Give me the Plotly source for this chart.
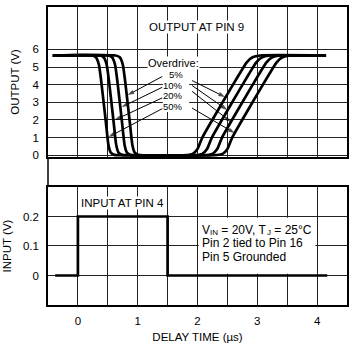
import plotly.graph_objects as go

# ---------------- data ----------------
overdrive_labels = ["5%", "10%", "20%", "50%"]

t_5 = [-0.42, 0.63, 0.70, 0.75, 0.79, 0.87, 0.91, 0.95, 1.01, 1.11,
       1.77, 1.92, 2.00, 2.08, 2.42, 2.70, 2.82, 2.92, 3.05, 4.15]
t_10 = [-0.42, 0.50, 0.57, 0.62, 0.66, 0.74, 0.78, 0.82, 0.88, 0.98,
        1.93, 2.08, 2.16, 2.24, 2.58, 2.86, 2.98, 3.08, 3.21, 4.15]
t_20 = [-0.42, 0.36, 0.43, 0.48, 0.52, 0.60, 0.64, 0.68, 0.74, 0.84,
        2.10, 2.25, 2.33, 2.41, 2.75, 3.03, 3.15, 3.25, 3.38, 4.15]
t_50 = [-0.42, 0.23, 0.30, 0.35, 0.39, 0.47, 0.51, 0.55, 0.61, 0.71,
        2.27, 2.42, 2.50, 2.58, 2.92, 3.20, 3.32, 3.42, 3.55, 4.15]
v_out = [5.65, 5.65, 5.55, 5.15, 4.2, 1.8, 0.6, 0.15, 0.02, 0.0,
         0.0, 0.08, 0.35, 1.0, 3.0, 4.6, 5.25, 5.55, 5.65, 5.65]

t_in = [-0.38, 0.0, 0.0, 1.5, 1.5, 4.17]
v_in = [0.0, 0.0, 0.2, 0.2, 0.0, 0.0]

x_ticks = [0, 1, 2, 3, 4]
out_ticks = [0, 1, 2, 3, 4, 5, 6]
in_ticks = [0, 0.1, 0.2]
in_tick_text = ["0", "0.1", "0.2"]

# ---------------- figure ----------------
FONT = "Liberation Sans, Arial, Helvetica, sans-serif"
fig = go.Figure()

for tt in (t_5, t_10, t_20, t_50):
    fig.add_trace(go.Scatter(x=tt, y=v_out, mode="lines", xaxis="x", yaxis="y",
                             line=dict(color="black", width=2.7, shape="spline", smoothing=0.5),
                             showlegend=False, hoverinfo="skip"))

fig.add_trace(go.Scatter(x=t_in, y=v_in, mode="lines", xaxis="x2", yaxis="y2",
                         line=dict(color="black", width=2.7),
                         showlegend=False, hoverinfo="skip"))

# leader arrows from the overdrive labels to the curves (tail, head)
left_arrows = [((1.41, 4.46), (0.83, 3.41)), ((1.41, 3.85), (0.73, 2.73)),
               ((1.41, 3.25), (0.61, 1.99)), ((1.41, 2.64), (0.51, 1.03))]
right_arrows = [((1.91, 4.23), (2.46, 3.30)), ((1.91, 3.95), (2.50, 2.56)),
                ((1.91, 3.62), (2.56, 1.88)), ((1.91, 2.67), (2.62, 1.26))]
for (tx, ty), (hx, hy) in left_arrows + right_arrows:
    fig.add_trace(go.Scatter(x=[tx, hx], y=[ty, hy], mode="lines+markers", xaxis="x", yaxis="y",
                             line=dict(color="black", width=1),
                             marker=dict(symbol=["circle", "arrow"], size=[0, 7], color="black",
                                         angleref="previous", line=dict(width=0)),
                             showlegend=False, hoverinfo="skip"))

grid = dict(showgrid=True, gridcolor="#222", gridwidth=1, zeroline=False,
            showline=True, mirror=True, linecolor="black", linewidth=1.5, ticks="")
xminor = dict(dtick=0.5, tick0=0, showgrid=True, gridcolor="#222", gridwidth=1, ticks="")
tfont = dict(family=FONT, size=11.5, color="black")

fig.update_layout(
    width=349, height=349,
    margin=dict(l=48, r=0, t=7, b=44),
    paper_bgcolor="white", plot_bgcolor="white",
    font=dict(family=FONT, size=11.5, color="black"),
    xaxis=dict(domain=[0, 1], range=[-0.5, 4.5], anchor="y", tickvals=x_ticks,
               showticklabels=False, minor=xminor, **grid),
    yaxis=dict(domain=[0.4966, 1], range=[-0.1, 8.4], anchor="x", tickvals=out_ticks,
               ticklabelstandoff=5, tickfont=dict(size=11.5),
               title=dict(text="OUTPUT (V)", font=tfont, standoff=11), automargin=True, **grid),
    xaxis2=dict(domain=[0, 1], range=[-0.5, 4.5], anchor="y2", tickvals=x_ticks,
                ticklabelstandoff=4, tickfont=dict(size=11.5), minor=xminor,
                title=dict(text="DELAY TIME (µs)", font=tfont, standoff=7), automargin=True, **grid),
    yaxis2=dict(domain=[0, 0.396], range=[-0.1, 0.3], anchor="x2", tickvals=in_ticks,
                ticktext=in_tick_text, ticklabelstandoff=5, tickfont=dict(size=11.5),
                title=dict(text="INPUT (V)", font=tfont, standoff=9), automargin=True, **grid),
)

# frame line through the gap between panels
fig.add_shape(type="line", xref="paper", yref="paper", x0=0, x1=0, y0=0.396, y1=0.4966,
              line=dict(color="black", width=1.5))
# white boxes hiding the grid behind the text blocks
fig.add_shape(type="rect", xref="x", yref="y", x0=1.42, x1=1.86, y0=2.45, y1=4.9,
              fillcolor="white", line=dict(width=0), layer="between")
fig.add_shape(type="rect", xref="x2", yref="y2", x0=2.02, x1=3.97, y0=0.006, y1=0.196,
              fillcolor="white", line=dict(width=0), layer="between")

ann = []
def txt(x, y, s, xref="x", yref="y", xanchor="center", bg="white", size=11.5, **kw):
    a = dict(x=x, y=y, text=s, xref=xref, yref=yref, xanchor=xanchor, yanchor="middle",
             showarrow=False, borderpad=0,
             font=dict(family=FONT, size=size, color="black"), **kw)
    if bg is not None:
        a["bgcolor"] = bg
    ann.append(a)

txt(1.99, 7.26, "OUTPUT AT PIN 9")
txt(1.16, 5.25, "Overdrive:", xanchor="left", size=11)
for lab, yv in zip(overdrive_labels, [4.57, 3.97, 3.36, 2.75]):
    txt(1.78, yv, lab, xanchor="right", bg=None, size=9.5)

txt(0.75, 0.246, "INPUT AT PIN 4", xref="x2", yref="y2")

# conditions block (subscripts drawn as small separate pieces)
NB = "\u00a0"
cx, cy = 2.06, 0.110
pieces = [("V", 0, 13.5, 12),
          ("IN", 8.2, 11.0, 8),
          (NB + "=" + NB + "20V," + NB + "T", 16.2, 13.5, 12),
          ("J", 65.3, 11.0, 8),
          (NB + "=" + NB + "25°C", 69.3, 13.5, 12)]
for s, dx, dy, fs in pieces:
    txt(cx, cy, s, xref="x2", yref="y2", xanchor="left", bg=None, size=fs, xshift=dx, yshift=dy)
txt(cx, cy, "Pin 2 tied to Pin 16", xref="x2", yref="y2", xanchor="left", bg=None, size=12)
txt(cx, cy, "Pin 5 Grounded", xref="x2", yref="y2", xanchor="left", bg=None, size=12, yshift=-13.5)

fig.update_layout(annotations=ann)

fig.write_html("out.html", config={"displayModeBar": False},
               post_script="document.body.style.margin='0';")
